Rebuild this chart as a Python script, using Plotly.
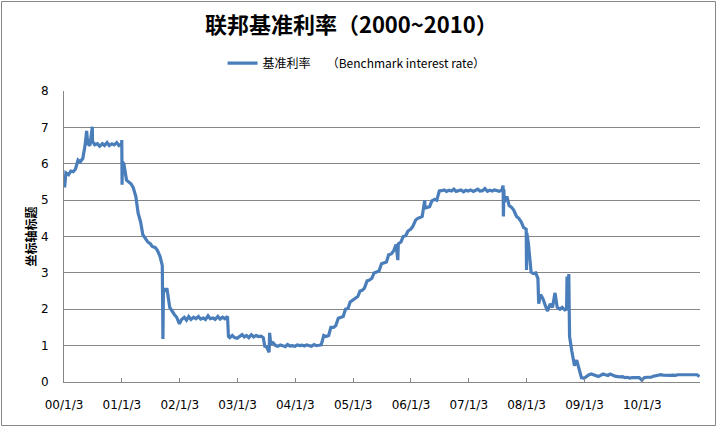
import pandas as pd
import plotly.graph_objects as go

# Semi-monthly readings (1st and 15th of each month)
v2000 = [5.55, 5.75, 5.70, 5.80, 5.78, 5.85, 6.10, 6.05, 6.15, 6.50, 6.55, 6.50, 6.62, 6.52, 6.55, 6.48, 6.55, 6.50, 6.58, 6.50, 6.55, 6.52, 6.58, 6.50]
v2001 = [6.55, 6.00, 5.55, 5.50, 5.45, 5.35, 5.10, 4.65, 4.40, 4.05, 3.95, 3.85, 3.80, 3.72, 3.70, 3.62, 3.45, 3.20, 2.55, 2.55, 2.05, 1.95, 1.85, 1.78]
v2002 = [1.60, 1.72, 1.78, 1.70, 1.80, 1.72, 1.78, 1.74, 1.80, 1.73, 1.76, 1.72, 1.82, 1.74, 1.76, 1.72, 1.80, 1.73, 1.78, 1.74, 1.80, 1.22, 1.28, 1.22]
v2003 = [1.20, 1.25, 1.30, 1.24, 1.28, 1.22, 1.30, 1.24, 1.28, 1.25, 1.26, 1.22, 1.00, 0.90, 1.05, 1.08, 1.00, 0.98, 1.02, 1.00, 0.97, 1.03, 0.99, 1.00]
v2004 = [0.98, 1.02, 1.00, 1.01, 0.99, 1.02, 1.00, 0.98, 1.03, 1.00, 1.01, 1.02, 1.28, 1.25, 1.28, 1.50, 1.50, 1.55, 1.75, 1.78, 1.80, 2.00, 2.02, 2.20]
v2005 = [2.25, 2.28, 2.35, 2.50, 2.52, 2.58, 2.78, 2.80, 2.85, 3.00, 3.02, 3.05, 3.25, 3.28, 3.30, 3.50, 3.52, 3.60, 3.78, 3.80, 3.85, 4.00, 4.02, 4.15]
v2006 = [4.20, 4.28, 4.45, 4.50, 4.52, 4.55, 4.78, 4.80, 4.82, 4.98, 5.02, 5.00, 5.25, 5.26, 5.28, 5.24, 5.27, 5.25, 5.30, 5.24, 5.26, 5.28, 5.23, 5.27]
v2007 = [5.25, 5.28, 5.24, 5.27, 5.30, 5.25, 5.26, 5.32, 5.24, 5.27, 5.25, 5.28, 5.26, 5.24, 5.28, 4.95, 5.10, 4.85, 4.80, 4.72, 4.55, 4.50, 4.40, 4.25]
v2008 = [4.20, 3.80, 3.02, 2.98, 3.00, 2.85, 2.40, 2.30, 2.10, 1.95, 2.15, 2.05, 2.45, 2.05, 2.00, 2.05, 1.98, 2.90, 1.25, 0.85, 0.45, 0.60, 0.30, 0.12]
v2009 = [0.10, 0.15, 0.20, 0.22, 0.20, 0.18, 0.15, 0.18, 0.22, 0.20, 0.18, 0.22, 0.18, 0.16, 0.15, 0.14, 0.15, 0.12, 0.13, 0.11, 0.12, 0.12, 0.10, 0.12]
v2010 = [0.05, 0.12, 0.13, 0.12, 0.13, 0.16, 0.18, 0.20, 0.20, 0.19, 0.18, 0.17, 0.18, 0.19, 0.18, 0.20, 0.20, 0.19, 0.18, 0.20, 0.19, 0.20, 0.18, 0.20]

# Short-lived spikes
spike_dates = ["2000-01-07", "2000-05-25", "2000-06-30", "2001-01-02", "2001-01-04", "2001-01-06",
               "2001-09-19", "2001-09-22", "2002-11-07", "2003-06-26", "2003-07-22", "2003-07-25",
               "2005-10-12", "2006-03-31", "2007-08-08", "2007-08-10", "2007-08-13", "2008-01-03",
               "2008-01-05", "2008-01-24", "2008-03-20", "2008-09-12", "2008-09-20", "2008-09-26",
               "2010-12-31"]
spike_values = [5.35, 6.90, 7.02, 6.65, 5.42, 6.05,
                1.18, 2.45, 1.25, 0.95, 0.82, 1.35,
                3.35, 5.00, 5.40, 4.55, 5.30, 3.08,
                4.10, 3.45, 2.15, 2.00, 2.10, 2.97,
                0.15]

tick_dates = ["2000-01-03", "2001-01-03", "2002-01-03", "2003-01-03", "2004-01-03", "2005-01-03",
              "2006-01-03", "2007-01-03", "2008-01-03", "2009-01-03", "2010-01-03"]
tick_labels = ["00/1/3", "01/1/3", "02/1/3", "03/1/3", "04/1/3", "05/1/3",
               "06/1/3", "07/1/3", "08/1/3", "09/1/3", "10/1/3"]

base_values = v2000 + v2001 + v2002 + v2003 + v2004 + v2005 + v2006 + v2007 + v2008 + v2009 + v2010
base_dates = list(pd.date_range("2000-01-01", "2010-12-31", freq="SMS"))
base_dates[0] = pd.Timestamp("2000-01-03")

df = pd.concat([
    pd.DataFrame({"date": base_dates, "rate": base_values}),
    pd.DataFrame({"date": pd.to_datetime(spike_dates), "rate": spike_values}),
]).sort_values("date")

GRID = "#868686"
fig = go.Figure()
fig.add_trace(go.Scatter(
    x=df["date"], y=df["rate"], mode="lines",
    name="基准利率\u00a0\u00a0\u00a0\u00a0\u00a0\u00a0（Benchmark interest rate）",
    line=dict(color="#4A7EBB", width=3.2),
))

fig.update_layout(
    width=717, height=428,
    margin=dict(l=64, r=17, t=91, b=46),
    paper_bgcolor="white", plot_bgcolor="white",
    font=dict(family="DejaVu Sans, Noto Sans CJK SC", size=12, color="#000000"),
    title=dict(text="<b>联邦基准利率（2000~2010）</b>",
               font=dict(family="Noto Sans CJK SC", size=22, color="#000000"),
               x=0.49, xanchor="center", y=1 - 25 / 428, yanchor="middle"),
    showlegend=True,
    legend=dict(orientation="h", x=0.46, xanchor="center", y=1.096, yanchor="middle",
                font=dict(family="Noto Sans CJK SC", size=12), bgcolor="rgba(0,0,0,0)"),
    xaxis=dict(type="date", range=["2000-01-03", "2011-01-03"],
               tickvals=tick_dates, ticktext=tick_labels,
               ticks="inside", ticklen=4, tickcolor=GRID,
               showline=True, linecolor=GRID, linewidth=1,
               showgrid=False, zeroline=False,
               tickfont=dict(family="DejaVu Sans", size=12), ticklabelstandoff=12),
    yaxis=dict(range=[0, 8], dtick=1, tick0=0,
               showgrid=True, gridcolor=GRID, gridwidth=1,
               showline=True, linecolor=GRID, linewidth=1,
               zeroline=False, ticks="",
               tickfont=dict(family="DejaVu Sans", size=12), ticklabelstandoff=12),
    annotations=[dict(text="<b>坐标轴标题</b>", textangle=-90,
                      xref="paper", yref="paper", x=(30 - 64) / 636, y=0.5,
                      xanchor="center", yanchor="middle", showarrow=False,
                      font=dict(family="Noto Sans CJK SC", size=12))],
    shapes=[dict(type="rect", xref="paper", yref="paper",
                 x0=(1.5 - 64) / 636, x1=(715.5 - 64) / 636,
                 y0=(382 - 425.5) / 291, y1=(382 - 1.5) / 291,
                 line=dict(color="#868686", width=1), fillcolor="rgba(0,0,0,0)", layer="below")],
)

fig.write_html("out.html")
